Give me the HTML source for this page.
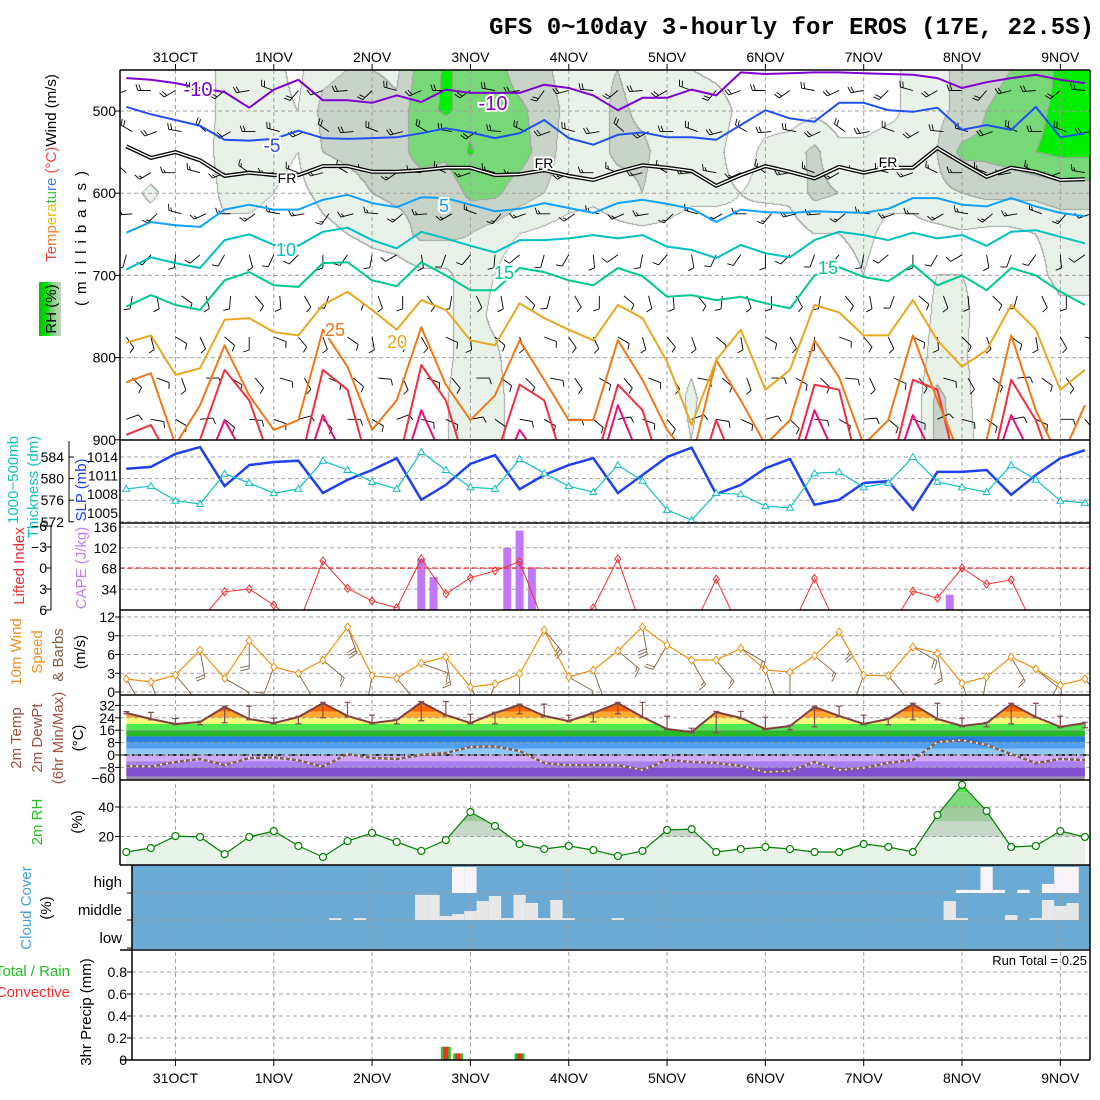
<!DOCTYPE html>
<html><head><meta charset="utf-8">
<style>
body{margin:0;background:#fff;width:1100px;height:1100px;overflow:hidden;position:relative}
#rh{position:absolute;left:0;top:0}
#chart{position:absolute;left:0;top:0}
text{font-family:"Liberation Sans",sans-serif}
.num{font-size:14px;fill:#000}
.ttl{font-size:15px}
.lbl{paint-order:stroke;stroke:#fff;stroke-width:4px}
</style></head>
<body>
<canvas id="rh" width="1100" height="1100"></canvas>
<svg id="chart" width="1100" height="1100" xmlns="http://www.w3.org/2000/svg">
<defs>
<clipPath id="c1"><rect x="120" y="70" width="970" height="370"/></clipPath>
<clipPath id="c2"><rect x="120" y="440" width="970" height="83"/></clipPath>
<clipPath id="c3"><rect x="120" y="523" width="970" height="87"/></clipPath>
<clipPath id="c4"><rect x="120" y="610" width="970" height="85"/></clipPath>
<clipPath id="c5"><rect x="120" y="695" width="970" height="85"/></clipPath>
<clipPath id="c6"><rect x="120" y="780" width="970" height="85"/></clipPath>
<clipPath id="c7"><rect x="132" y="865" width="958" height="85"/></clipPath>
<clipPath id="c8"><rect x="132" y="950" width="958" height="110"/></clipPath>
<linearGradient id="rhg" x1="0" x2="1" y1="0" y2="0"><stop offset="0" stop-color="#00c000"/><stop offset="0.35" stop-color="#00e000"/><stop offset="0.6" stop-color="#80d080"/><stop offset="1" stop-color="#c8d4c8"/></linearGradient>
</defs>
<text x="1094" y="34" text-anchor="end" style="font-family:'Liberation Mono',monospace;font-size:24px;font-weight:bold">GFS 0~10day 3-hourly for EROS (17E, 22.5S)</text>

<g id="cloudbg"><rect x="132" y="865" width="958" height="84" fill="#6aaad4"/></g>
<g id="grid"></g>
<g id="g1" clip-path="url(#c1)"></g>
<g id="g2" clip-path="url(#c2)"></g>
<g id="g3" clip-path="url(#c3)"></g>
<g id="g4" clip-path="url(#c4)"></g>
<g id="g5" clip-path="url(#c5)"></g>
<g id="g6" clip-path="url(#c6)"></g>
<g id="g7" clip-path="url(#c7)"></g>
<g id="g8" clip-path="url(#c8)"></g>
<g id="axes"></g>

<g>
<text class="ttl" transform="translate(56,168) rotate(-90)" text-anchor="middle"><tspan fill="#f04040">Te</tspan><tspan fill="#f08030">mp</tspan><tspan fill="#e0c000">era</tspan><tspan fill="#40c040">tu</tspan><tspan fill="#4080f0">re</tspan><tspan fill="#f04040"> (°C)</tspan><tspan fill="#000">Wind (m/s)</tspan></text>
<rect x="39" y="282" width="22" height="54" fill="url(#rhg)"/>
<text class="ttl" transform="translate(56,309) rotate(-90)" text-anchor="middle">RH (%)</text>
<text class="ttl" transform="translate(86,235) rotate(-90)" text-anchor="middle" letter-spacing="7">(millibars)</text>
</g>
<g>
<text class="ttl" transform="translate(18,480) rotate(-90)" text-anchor="middle" fill="#10c0c0">1000−500mb</text>
<text class="ttl" transform="translate(38,487) rotate(-90)" text-anchor="middle" fill="#10c0c0">Thickness (dm)</text>
<text class="ttl" transform="translate(86,490) rotate(-90)" text-anchor="middle" fill="#2040f0">SLP (mb)</text>
</g>
<g>
<text class="ttl" transform="translate(24,566) rotate(-90)" text-anchor="middle" fill="#f03030">Lifted Index</text>
<text class="ttl" transform="translate(86,568) rotate(-90)" text-anchor="middle" fill="#c080f0">CAPE (J/kg)</text>
</g>
<g>
<text class="ttl" transform="translate(21,652) rotate(-90)" text-anchor="middle" fill="#f09020">10m Wind</text>
<text class="ttl" transform="translate(42,652) rotate(-90)" text-anchor="middle" fill="#f09020">Speed</text>
<text class="ttl" transform="translate(63,655) rotate(-90)" text-anchor="middle" fill="#806040">&amp; Barbs</text>
<text class="ttl" transform="translate(85,652) rotate(-90)" text-anchor="middle">(m/s)</text>
</g>
<g>
<text class="ttl" transform="translate(21,738) rotate(-90)" text-anchor="middle" fill="#a05040">2m Temp</text>
<text class="ttl" transform="translate(42,738) rotate(-90)" text-anchor="middle" fill="#a05040">2m DewPt</text>
<text class="ttl" transform="translate(63,738) rotate(-90)" text-anchor="middle" fill="#a05040">(6hr Min/Max)</text>
<text class="ttl" transform="translate(83,738) rotate(-90)" text-anchor="middle">(°C)</text>
</g>
<g>
<text class="ttl" transform="translate(42,822) rotate(-90)" text-anchor="middle" fill="#20c020">2m RH</text>
<text class="ttl" transform="translate(82,822) rotate(-90)" text-anchor="middle">(%)</text>
</g>
<g>
<text class="ttl" transform="translate(31,908) rotate(-90)" text-anchor="middle" fill="#40a0e0">Cloud Cover</text>
<text class="ttl" transform="translate(51,908) rotate(-90)" text-anchor="middle">(%)</text>
<text class="ttl" x="122" y="887" text-anchor="end">high</text>
<text class="ttl" x="122" y="915" text-anchor="end">middle</text>
<text class="ttl" x="122" y="943" text-anchor="end">low</text>
</g>
<g>
<text class="ttl" x="70" y="976" text-anchor="end" fill="#20c020">Total / Rain</text>
<text class="ttl" x="70" y="997" text-anchor="end" fill="#f03030">Convective</text>
<text class="ttl" transform="translate(91,1012) rotate(-90)" text-anchor="middle">3hr Precip (mm)</text>
<text x="1087" y="965" text-anchor="end" font-size="13">Run Total = 0.25</text>
</g>
</svg>
<script>
// ---------- data ----------
const hours6 = Array.from({length:40},(_,i)=>i*6);
const dayLabels=['31OCT','1NOV','2NOV','3NOV','4NOV','5NOV','6NOV','7NOV','8NOV','9NOV'];
const dayHours=[12,36,60,84,108,132,156,180,204,228];
const pressureTicks=[500,600,700,800,900];
const isoM10=[460,462,466,472,477,496,474,462,487,487,490,481,489,474,478,478,478,468,472,481,499,484,484,474,481,453,455,454,453,453,454,455,456,460,472,465,460,456,462,466];
const isoM5=[495,504,511,518,535,536,534,524,533,534,533,532,527,521,526,533,527,511,533,541,529,526,532,532,535,517,499,509,513,490,490,499,501,496,523,517,523,495,532,527];
const iso0=[543,557,550,560,579,575,578,578,567,567,574,574,572,569,569,578,577,572,579,584,574,566,569,573,591,578,567,574,582,568,575,569,569,545,563,580,569,574,584,583];
const iso5=[648,635,639,641,620,614,620,620,608,602,612,617,605,606,614,622,619,612,618,624,612,608,613,619,635,620,623,624,622,623,624,619,606,606,614,616,606,616,624,628];
const iso10=[693,678,685,691,657,650,663,664,647,642,657,667,647,655,664,672,657,657,655,651,655,651,665,669,679,663,673,678,657,647,651,657,648,655,651,664,647,645,653,661];
const iso15=[738,724,736,742,706,696,712,714,685,684,706,713,684,700,718,718,691,696,706,712,691,701,726,724,730,726,734,740,700,690,702,707,687,712,700,718,691,700,720,736];
const iso20=[782,773,821,813,754,752,769,773,736,720,742,766,730,742,779,785,734,752,766,779,736,752,805,882,803,766,839,815,736,745,773,773,730,779,811,791,736,766,839,815];
const iso25=[830,819,906,858,785,846,888,876,766,811,888,852,763,833,876,846,779,827,876,876,779,827,888,925,803,852,906,876,779,824,906,876,773,852,925,900,773,864,925,858];
const iso30=[894,882,937,900,815,852,937,937,815,839,949,937,809,852,949,925,833,852,949,937,833,864,961,973,876,949,961,937,833,839,961,949,827,839,961,961,827,876,961,949];
const iso35=[950,950,960,950,876,930,960,960,870,930,960,960,864,930,960,960,888,930,960,960,858,930,960,960,930,960,960,960,864,930,960,960,870,930,960,960,870,930,960,960];
const rhLevels=[450,500,550,600,650,700,750,800,850,900];
const rh450=[10,10,15,20,35,40,35,25,45,50,50,45,80,92,85,80,60,55,40,45,50,40,35,30,25,20,20,25,20,20,20,25,35,45,55,60,70,75,95,95];
const rh500=[10,10,15,20,35,45,35,30,55,60,65,55,85,92,85,80,75,60,45,40,55,45,40,45,40,25,20,20,25,20,20,25,35,45,55,70,80,85,95,95];
const rh550=[10,10,20,20,38,45,35,30,50,55,60,60,80,75,92,80,80,60,40,40,55,55,40,40,35,20,35,40,55,35,35,40,30,50,75,75,80,90,95,95];
const rh600=[20,35,20,15,35,40,30,25,35,40,50,55,55,55,75,75,60,50,40,35,40,50,40,35,35,30,35,35,55,50,40,35,35,45,50,55,55,55,60,60];
const rh650=[15,15,15,15,25,20,15,15,25,30,35,40,55,55,50,40,30,25,20,20,25,25,25,20,20,25,15,20,30,30,35,25,25,25,28,25,25,30,35,35];
const rh700=[10,10,10,10,15,15,10,10,15,15,20,20,25,25,40,30,15,15,15,15,15,15,20,20,15,15,15,15,20,20,30,20,20,30,30,25,20,25,35,35];
const rh750=[10,10,10,10,15,15,10,10,10,10,15,15,15,25,40,25,15,10,10,10,10,10,15,15,10,10,10,10,15,15,20,20,15,35,35,20,15,15,25,25];
const rh800=[10,10,10,10,15,15,10,10,10,10,15,10,10,25,40,35,15,10,10,10,10,10,15,25,10,10,10,10,10,10,15,15,15,40,35,15,10,10,15,15];
const rh850=[10,10,10,10,15,15,10,10,10,10,15,15,15,28,45,40,15,10,10,10,10,10,15,35,15,10,10,10,10,10,15,15,15,55,40,15,10,10,15,15];
const rh900=[10,10,10,10,15,15,10,10,10,10,15,15,15,28,45,40,15,10,10,10,10,10,15,30,15,10,10,10,10,10,15,15,15,55,45,15,10,10,15,15];
const upLevels=[475,525,575,625,675,725,775,825,875];
const upDirLev=[250,270,270,250,200,160,140,120,100];
const upSpdLev=[12,10,9,8,7,6,5,5,5];
const upDirShift=[0,20,-10,30,-20,10,40,-30,0,15,-25,35,-5,20,-15,30,10,-35,5,25,-20,15,-10,40,-30,0,20,-15,30,-5,10,-25,35,-10,20,-30,5,15,-20,25];
const slp=[1012.1,1012.4,1014.5,1015.6,1009.3,1012.7,1013.2,1013.4,1008.2,1010.3,1011.9,1013.8,1007.1,1009.5,1012.9,1014.3,1008.8,1011.1,1012.7,1013.8,1008.2,1011.1,1014.0,1015.5,1008.0,1009.5,1012.2,1013.7,1006.3,1007.1,1009.8,1010.1,1005.5,1011.6,1011.6,1011.9,1007.9,1011.1,1013.8,1015.1];
const thick=[578.1,578.6,575.9,575.3,580.9,579.2,577.3,578.1,583.3,581.6,579.4,578.1,584.9,581.6,578.4,578.1,583.6,581.0,578.6,577.5,582.5,579.6,574.2,572.3,577.3,577.1,574.9,574.6,581.0,581.2,578.4,579.2,584.0,579.4,578.4,577.5,582.5,579.8,575.9,575.5];
const slpTicks=[1014,1011,1008,1005];
const thickTicks=[584,580,576,572];
const liftedIndex=[8,8,8,7.5,3.4,3.0,5.3,8,-1.0,2.9,4.7,5.7,-1.3,3.7,1.4,0.4,-0.9,8,8,5.7,-1.3,9,9,9,1.6,9,9,9,1.5,9,9,9,3.3,4.3,0,2.3,1.7,9,9,9];
const liTicks=[-6,-3,0,3,6];
const capeTicks=[136,102,68,34];
const capeHours=[72,75,93,96,99,201];
const capeVals=[84,54,102,130,70,25];
const wind10=[2.1,1.6,2.7,6.7,2.2,8.2,4.0,3.0,5.1,10.4,2.6,2.2,4.6,5.6,0.8,1.3,2.9,9.9,2.4,3.5,6.6,10.4,7.5,5.1,5.1,7.0,3.5,3.2,5.8,9.6,2.7,2.6,7.2,6.2,1.4,2.4,5.6,3.7,1.1,2.1];
const windDir10=[150,160,140,170,120,180,200,150,130,160,190,140,110,170,150,200,180,140,120,160,130,170,210,150,140,120,160,180,130,150,200,140,120,170,160,190,150,130,170,140];
const windTicks=[0,3,6,9,12];
const temp2m=[27.1,23.2,20.0,21.3,31.0,23.2,20.6,24.5,33.5,25.2,20.6,22.6,34.0,25.8,20.6,27.1,32.3,25.2,21.9,27.1,33.5,24.5,16.8,14.8,27.7,23.9,16.8,18.7,31.0,25.2,20.0,23.2,32.9,23.2,18.7,20.6,32.9,24.5,18.1,20.6];
const tMax=[28,27.5,23.5,21.8,31.5,31.5,23.7,25,34,34,25.7,23,34.5,34.5,26.3,27.6,32.8,32.8,25.7,27.6,34,34,25,17.3,28.2,28.2,24.4,19.2,31.5,31.5,25.7,23.7,33.4,33.4,23.7,21.1,33.4,33.4,25,21.1];
const tMin=[26.6,22.7,19.5,19.5,20.8,22.7,20.1,20.1,24,24.7,20.1,20.1,22.1,25.3,20.1,20.1,26.6,24.7,21.4,21.4,26.6,24,16.3,14.3,14.3,23.4,16.3,16.3,18.2,24.7,19.5,19.5,22.7,22.7,18.2,18.2,20.1,24,17.6,17.6];
const dewpt=[-7.1,-7.4,-4.5,-2.6,-6.5,-2,-1.5,-3.5,-7.5,0.6,-1.9,-2.6,0,1.3,5.2,5.5,2.6,-5.2,-6.5,-6.5,-6.5,-9.7,-3.2,-4.5,-5.2,-7,-11,-10.3,-4.5,-9.7,-8.4,-5,-3.2,8.4,9.7,6.5,0.6,-5.2,-2.6,-3.2];
const tempTicks=[32,24,16,8,0,-8];
const rh2m=[9.5,12.2,20.3,19.7,8.1,19.7,23.7,13.6,6.1,16.9,22.4,16.3,10.2,17.6,36.6,27.1,14.9,11.5,13.6,10.8,6.8,10.2,24.4,25,9.5,11.5,12.9,11.5,9.5,9.5,14.9,12.9,9.5,34.6,55,37.3,12.9,13.6,23.7,19.7];
const rhTicks=[20,40];
const cloudMidIdx=[17,19,24,25,26,27,28,29,30,31,32,33,34,35,36,40,67,68,72,74,75,76,77];
const cloudMidPct=[7,7,93,93,15,22,33,70,89,7,93,63,7,74,7,7,70,7,18,7,74,52,63];
const cloudHighIdx=[27,28,68,69,70,71,73,75,76,77];
const cloudHighPct=[100,100,12,12,100,12,12,35,100,100];
const precipIdx=[26,27,32];
const precipTotal=[0.12,0.06,0.06];
const precipConv=[0.12,0.06,0.06];
const precipTicks=[0,0.2,0.4,0.6,0.8];

// ---------- scales ----------
const NS='http://www.w3.org/2000/svg';
const svg=document.getElementById('chart');
function xh(h){return 126.3+h*12.29/3;}
function yP(p){return 111+(p-500)*0.822;}
function ySlp(v){return 457+(1014-v)*6.2;}
function yThk(v){return 457+(584-v)*5.4;}
function yLI(v){return 568+v*7;}
function yCape(v){return 610-v*0.61;}
function yW(v){return 692-v*6.25;}
function yT(v){return 755-v*1.55;}
function yRH(v){return 866-v*1.475;}
function yPr(v){return 1060-v*110;}
function mk(tag,attrs,parent){const e=document.createElementNS(NS,tag);for(const k in attrs)e.setAttribute(k,attrs[k]);(parent||svg).appendChild(e);return e;}
function pts(arr,yf){return arr.map((v,i)=>xh(hours6[i]).toFixed(1)+','+yf(v).toFixed(1)).join(' ');}
const G=id=>document.getElementById(id);

// ---------- RH shading ----------
(function(){
  const grid=[rh450,rh500,rh550,rh600,rh650,rh700,rh750,rh800,rh850,rh900];
  const ctx=G('rh').getContext('2d');
  const X0=120,Y0=70,W=970,H=370;
  const cls=new Uint8Array(W*H);
  for(let py=0;py<H;py++){
    const p=500+(Y0+py+0.5-111)/0.822;
    let fj=(p-rhLevels[0])/50; fj=Math.max(0,Math.min(rhLevels.length-1,fj));
    const j0=Math.floor(fj), j1=Math.min(rhLevels.length-1,j0+1), tj=fj-j0;
    for(let px=0;px<W;px++){
      const h=(X0+px+0.5-126.3)/(12.29/3);
      let fi=h/6; fi=Math.max(0,Math.min(39,fi));
      const i0=Math.floor(fi), i1=Math.min(39,i0+1), ti=fi-i0;
      const a=grid[j0][i0]*(1-ti)+grid[j0][i1]*ti;
      const b=grid[j1][i0]*(1-ti)+grid[j1][i1]*ti;
      const v=a*(1-tj)+b*tj;
      cls[py*W+px]=v>=90?4:v>=70?3:v>=50?2:v>=30?1:0;
    }
  }
  const cols=[[255,255,255],[232,242,232],[200,212,200],[120,216,120],[0,238,0]];
  const img=ctx.createImageData(W,H);
  for(let py=0;py<H;py++)for(let px=0;px<W;px++){
    const k=py*W+px,c=cls[k];
    let col=cols[c];
    const r=px<W-1?cls[k+1]:c, d=py<H-1?cls[k+W]:c;
    if(r!==c||d!==c) col=[160,160,160];
    const o=k*4; img.data[o]=col[0];img.data[o+1]=col[1];img.data[o+2]=col[2];img.data[o+3]=255;
  }
  ctx.putImageData(img,X0,Y0);
})();

// ---------- gridlines ----------
const grid=G('grid');
dayHours.forEach(h=>{
  const l=mk('line',{x1:xh(h),x2:xh(h),y1:70,y2:1060,stroke:'#a0a0a0','stroke-dasharray':'4,3','stroke-width':1},grid);
  
  
});
function hgrid(y,x1){
  const l=mk('line',{x1:x1||120,x2:1090,y1:y,y2:y,stroke:'#a0a0a0','stroke-dasharray':'4,3','stroke-width':1},grid);
  
  
}
[500,600,700,800].forEach(p=>hgrid(yP(p)));
thickTicks.forEach(v=>hgrid(yThk(v)));
capeTicks.forEach(v=>hgrid(yCape(v)));
windTicks.forEach(v=>hgrid(yW(v)));
rhTicks.forEach(v=>hgrid(yRH(v)));
[893,920].forEach(y=>hgrid(y,132));
precipTicks.slice(1).forEach(v=>hgrid(yPr(v),132));

// ---------- panel 1 ----------
const g1=G('g1');
function barb(parent,x,y,dir,spd,L,color,name,fw){
  const t=dir*Math.PI/180, sx=Math.sin(t), sy=-Math.cos(t);
  const ex=x+sx*L, ey=y+sy*L;
  let d='M'+x.toFixed(1)+','+y.toFixed(1)+'L'+ex.toFixed(1)+','+ey.toFixed(1);
  const full=Math.floor(spd/5), half=(spd%5)>=2.5?1:0;
  const px=-sy, py=sx;
  for(let k=0;k<full+half;k++){
    const bx=ex-sx*k*3, by=ey-sy*k*3;
    const fl=(k<full?fw:fw*0.55);
    d+='M'+bx.toFixed(1)+','+by.toFixed(1)+'L'+(bx+px*fl+sx*2).toFixed(1)+','+(by+py*fl+sy*2).toFixed(1);
  }
  const p=mk('path',{d:d,stroke:color,'stroke-width':0.9,fill:'none'},parent);
  
  
}
upLevels.forEach((lev,j)=>{
  hours6.forEach((h,i)=>{
    barb(g1,xh(h)+((j%2)?6:0),yP(lev),upDirLev[j]+upDirShift[(i+j*3)%40],upSpdLev[j],13,'#000','upper-wind-barb',6);
  });
});
const isoSet=[
  {d:iso35,c:'#e8107a',n:'isotherm-35'},{d:iso30,c:'#f03040',n:'isotherm-30'},{d:iso25,c:'#f07818',n:'isotherm-25'},
  {d:iso20,c:'#e8a820',n:'isotherm-20'},{d:iso15,c:'#00c890',n:'isotherm-15'},{d:iso10,c:'#00c0c0',n:'isotherm-10'},
  {d:iso5,c:'#10a0ff',n:'isotherm-5'},{d:isoM5,c:'#2050f0',n:'isotherm-minus5'},{d:isoM10,c:'#8000d0',n:'isotherm-minus10'}];
isoSet.forEach(s=>{
  const l=mk('polyline',{points:pts(s.d,yP),fill:'none',stroke:s.c,'stroke-width':2,'stroke-linejoin':'round'},g1);
  
  
});
const fz=mk('polyline',{points:pts(iso0,yP),fill:'none',stroke:'#000','stroke-width':4},g1);


const fz2=mk('polyline',{points:pts(iso0,yP),fill:'none',stroke:'#fff','stroke-width':1.4},g1);


const isoLabels=[['-10',198,96,'#8000d0',20],['-10',493,110,'#8000d0',20],['-5',272,152,'#2050f0',19],['FR',287,183,'#000',14],['FR',544,168,'#000',14],['FR',888,167,'#000',14],
 ['5',444,212,'#10a0ff',18],['10',286,256,'#00c0c0',18],['15',504,279,'#00c890',18],['15',828,274,'#00c890',18],['20',397,348,'#e8a820',18],['25',335,336,'#f07818',18]];
isoLabels.forEach(a=>{
  const t=mk('text',{x:a[1],y:a[2],fill:a[3],'font-size':a[4],'text-anchor':'middle','class':'lbl'},g1);
  t.textContent=a[0];
  
  
});

// ---------- panel 2 ----------
const g2=G('g2');
const sl=mk('polyline',{points:pts(slp,ySlp),fill:'none',stroke:'#2040f0','stroke-width':2.5},g2);


const th=mk('polyline',{points:pts(thick,yThk),fill:'none',stroke:'#10c0c0','stroke-width':1.2},g2);


thick.forEach((v,i)=>{
  const x=xh(hours6[i]),y=yThk(v);
  const m=mk('path',{d:`M${x},${y-3.5}L${x+3.5},${y+2.5}L${x-3.5},${y+2.5}Z`,fill:'#fff',stroke:'#10c0c0','stroke-width':1},g2);
  
  
});

// ---------- panel 3 ----------
const g3=G('g3');
capeVals.forEach((v,i)=>{
  const x=xh(capeHours[i]);
  const r=mk('rect',{x:x-4,y:yCape(v),width:8,height:610-yCape(v),fill:'#c078f8'},g3);
  
  
});
const zl=mk('line',{x1:120,x2:1090,y1:yLI(0),y2:yLI(0),stroke:'#f03030','stroke-dasharray':'5,3','stroke-width':1.2},g3);


const li=mk('polyline',{points:pts(liftedIndex,yLI),fill:'none',stroke:'#f03030','stroke-width':1},g3);


liftedIndex.forEach((v,i)=>{
  const x=xh(hours6[i]),y=yLI(v);
  const m=mk('path',{d:`M${x},${y-4}L${x+3},${y}L${x},${y+4}L${x-3},${y}Z`,fill:'none',stroke:'#f03030','stroke-width':1},g3);
  
  
});

// ---------- panel 4 ----------
const g4=G('g4');
wind10.forEach((v,i)=>{
  barb(g4,xh(hours6[i]),yW(v),windDir10[i],v*1.5,28,'#806040','wind10-barb',9);
});
const ws=mk('polyline',{points:pts(wind10,yW),fill:'none',stroke:'#f09010','stroke-width':1.2},g4);


wind10.forEach((v,i)=>{
  const x=xh(hours6[i]),y=yW(v);
  const m=mk('path',{d:`M${x},${y-4}L${x+3},${y}L${x},${y+4}L${x-3},${y}Z`,fill:'#fff',stroke:'#f09010','stroke-width':1},g4);
  
  
});

// ---------- panel 5 ----------
const g5=G('g5');
const defs=svg.querySelector('defs');
const cpT=mk('clipPath',{id:'tArea'},defs);
const tx0=xh(hours6[0]), tx1=xh(hours6[hours6.length-1]);
mk('polygon',{points:tx0+',780 '+pts(temp2m,yT)+' '+tx1+',780'},cpT);
const tBand=[60,28,24,20,16,12,8,4,0,-4,-8,-14,-80];
const tCol=['#ff6400','#ffa830','#f8f878','#50e850','#28b828','#2880e0','#50a0f0','#90c8f8','#d4a8f8','#a880f0','#8050d0','#9890a8'];
const tb=mk('g',{'clip-path':'url(#tArea)'},g5);


tCol.forEach((c,k)=>{
  const y1=Math.max(695,yT(tBand[k])), y2=Math.min(780,yT(tBand[k+1]));
  const r=mk('rect',{x:120,y:y1,width:970,height:Math.max(0,y2-y1),fill:c},tb);
  
  
});
const zt=mk('line',{x1:120,x2:1090,y1:yT(0),y2:yT(0),stroke:'#000','stroke-dasharray':'9,3','stroke-width':1.5},g5);


tempTicks.forEach(v=>{
  const l=mk('line',{x1:120,x2:1090,y1:yT(v),y2:yT(v),stroke:'#a0a0a0','stroke-dasharray':'4,3'},g5);
  
  
});
const tl=mk('polyline',{points:pts(temp2m,yT),fill:'none',stroke:'#804040','stroke-width':2},g5);


tMax.forEach((v,i)=>{
  const x=xh(hours6[i]), a=yT(v), b=yT(tMin[i]);
  const p=mk('path',{d:`M${x},${a}L${x},${b}M${x-3},${a}L${x+3},${a}M${x-3},${b}L${x+3},${b}`,stroke:'#805050','stroke-width':1.2,fill:'none'},g5);
  
  
});
const dw=mk('polyline',{points:pts(dewpt,yT),fill:'none',stroke:'#f0e8f0','stroke-width':1.6},g5);


const dl=mk('polyline',{points:pts(dewpt,yT),fill:'none',stroke:'#806050','stroke-width':2.4,'stroke-dasharray':'4,2'},g5);



// ---------- panel 6 ----------
const g6=G('g6');
const cpR=mk('clipPath',{id:'rArea'},defs);
mk('polygon',{points:tx0+',866 '+pts(rh2m,yRH)+' '+tx1+',866'},cpR);
const rBand=[100,50,40,30,20,0];
const rCol=['#50e850','#80d880','#a0cca0','#c8d8c8','#e8f4e8'];
const rb=mk('g',{'clip-path':'url(#rArea)'},g6);


rCol.forEach((c,k)=>{
  const y1=Math.max(780,yRH(rBand[k])), y2=Math.min(866,yRH(rBand[k+1]));
  const r=mk('rect',{x:120,y:y1,width:970,height:Math.max(0,y2-y1),fill:c},rb);
  
  
});
rhTicks.forEach(v=>{
  const l=mk('line',{x1:120,x2:1090,y1:yRH(v),y2:yRH(v),stroke:'#a0a0a0','stroke-dasharray':'4,3'},g6);
  
  
});
const rl=mk('polyline',{points:pts(rh2m,yRH),fill:'none',stroke:'#008000','stroke-width':1.2},g6);


rh2m.forEach((v,i)=>{
  const c=mk('circle',{cx:xh(hours6[i]),cy:yRH(v),r:3.5,fill:'#fff',stroke:'#008000','stroke-width':1.2},g6);
  
  
});

// ---------- panel 7 ----------
const g7=G('g7');
cloudMidIdx.forEach((k,i)=>{
  const x=xh(k*3), h=cloudMidPct[i]*27/100;
  const r=mk('rect',{x:x-6.15,y:920-h,width:12.3,height:h,fill:'#e8e8e8'},g7);
  
  
});
cloudHighIdx.forEach((k,i)=>{
  const x=xh(k*3), h=cloudHighPct[i]*26/100;
  const r=mk('rect',{x:x-6.15,y:893-h,width:12.3,height:h,fill:'#f8f4fa'},g7);
  
  
});

// ---------- panel 8 ----------
const g8=G('g8');
precipIdx.forEach((k,i)=>{
  const x=xh(k*3);
  const r=mk('rect',{x:x-5,y:yPr(precipTotal[i]),width:10,height:1060-yPr(precipTotal[i]),fill:'#20d020'},g8);
  
  
  const c=mk('rect',{x:x-2.5,y:yPr(precipConv[i]),width:5,height:1060-yPr(precipConv[i]),fill:'#f03030'},g8);
  
  
});

// ---------- axes ----------
const ax=G('axes');
function line(x1,y1,x2,y2,w,name){
  const l=mk('line',{x1:x1,y1:y1,x2:x2,y2:y2,stroke:'#000','stroke-width':w||1.5},ax);
  
  
}
line(120,70,1090,70,1.5,'top-border');
line(120,70,120,865,1.5,'left-border');
line(132,865,132,1060,1.5,'left-border-lower');
line(1090,70,1090,1060,1.5,'right-border');
[440,523,610,695,780].forEach(y=>line(120,y,1090,y,1.5,'panel-separator'));
[865,950,1060].forEach(y=>line(120,y,1090,y,1.5,'panel-separator'));
line(69,441,69,522,1,'thickness-axis');
line(51,525,51,610,1,'li-axis');
function num(x,y,s,name,anchor){
  const t=mk('text',{x:x,y:y+5,'text-anchor':anchor||'end','class':'num'},ax);
  t.textContent=s;
  
  
}
pressureTicks.forEach(p=>{num(116,yP(p),String(p),'pressure-tick-label');line(115,yP(p),120,yP(p),1,'tick');});
thickTicks.forEach(v=>{num(64,yThk(v),String(v),'thickness-tick-label');line(69,yThk(v),74,yThk(v),1,'tick');});
slpTicks.forEach(v=>num(118,ySlp(v),String(v),'slp-tick-label'));
liTicks.forEach(v=>{num(47,yLI(v),String(v).replace('-','−'),'li-tick-label');line(46,yLI(v),51,yLI(v),1,'tick');});
capeTicks.forEach(v=>num(117,yCape(v),String(v),'cape-tick-label'));
windTicks.forEach(v=>{num(115,yW(v),String(v),'wind-tick-label');line(115,yW(v),120,yW(v),1,'tick');});
tempTicks.forEach(v=>{num(115,yT(v),String(v).replace('-','−'),'temp-tick-label');line(115,yT(v),120,yT(v),1,'tick');});
num(115,778,'−60','temp-tick-label');
rhTicks.forEach(v=>{num(114,yRH(v),String(v),'rh-tick-label');line(115,yRH(v),120,yRH(v),1,'tick');});
precipTicks.forEach(v=>{num(127,yPr(v),String(v),'precip-tick-label');line(127,yPr(v),132,yPr(v),1,'tick');});
[865,893,920,948].forEach(y=>line(127,y,132,y,1,'tick'));
dayHours.forEach((h,i)=>{
  const x=xh(h);
  line(x,64,x,70,1,'top-tick');
  line(x,1060,x,1066,1,'bottom-tick');
  const t=mk('text',{x:x,y:62,'text-anchor':'middle','class':'num'},ax);
  t.textContent=dayLabels[i];
  
  
  const b=mk('text',{x:x,y:1083,'text-anchor':'middle','class':'num'},ax);
  b.textContent=dayLabels[i];
  
  
});
</script>
</body></html>
